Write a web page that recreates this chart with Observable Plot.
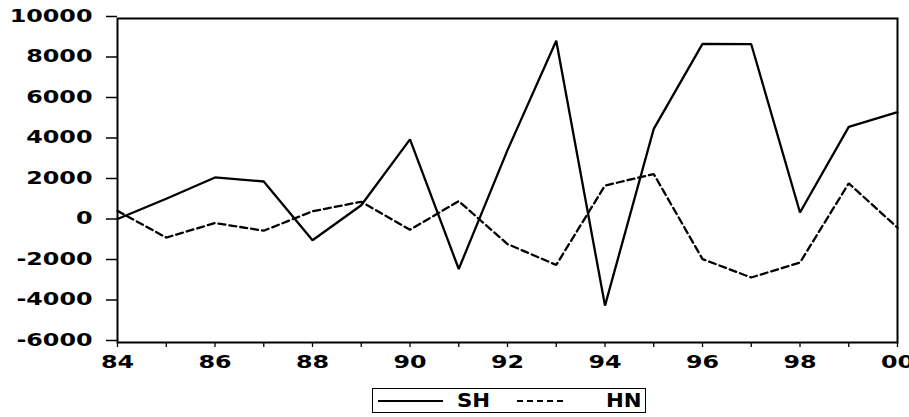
<!DOCTYPE html>
<html>
<head>
<meta charset="utf-8">
<script src="https://cdn.jsdelivr.net/npm/d3@7"></script>
<script src="https://cdn.jsdelivr.net/npm/@observablehq/plot@0.6"></script>
<style>
  html, body { margin: 0; padding: 0; background: white; }
  #chart { width: 909px; }
  .legend {
    position: relative;
    margin-left: 372px;
    margin-top: 10px;
    width: 272px;
    height: 23px;
    border: 1.5px solid black;
    font-family: "DejaVu Sans", sans-serif;
    font-weight: bold;
    font-size: 19px;
    color: black;
  }
  .legend .item { position: absolute; top: 0; height: 23px; display: flex; align-items: center; }
  .legend span { display: inline-block; line-height: 23px; }
</style>
</head>
<body>
<div id="chart"></div>
<script>
// ---- data ----
const years = [84, 85, 86, 87, 88, 89, 90, 91, 92, 93, 94, 95, 96, 97, 98, 99, 100];
const SH = [100, 1100, 2150, 1950, -950, 780, 4030, -2370, 3500, 8900, -4180, 4550, 8750, 8730, 420, 4650, 5380];
const HN = [500, -820, -100, -480, 480, 950, -430, 980, -1140, -2170, 1750, 2320, -1880, -2790, -2050, 1860, -330];
const seriesNames = ["SH", "HN"];
const yTicks = [-6000, -4000, -2000, 0, 2000, 4000, 6000, 8000, 10000];
const xLabelTicks = [84, 86, 88, 90, 92, 94, 96, 98, 100];

const seriesValues = {SH, HN};
const dashes = {SH: null, HN: "7,4"};
const rows = seriesNames.flatMap(name =>
  years.map((year, i) => ({series: name, year, value: seriesValues[name][i]})));

const fmtX = d => String(d % 100).padStart(2, "0");
const fmtY = d => (d < 0 ? "-" : "") + String(Math.abs(d));

const plot = Plot.plot({
  width: 909,
  height: 378,
  marginLeft: 117,
  marginRight: 12,
  marginTop: 18,
  marginBottom: 36,
  style: {fontFamily: "DejaVu Sans, sans-serif", fontWeight: "bold", fontSize: "17px", background: "white", color: "black", overflow: "visible"},
  x: {domain: [84, 100]},
  y: {domain: [-6000, 10000]},
  marks: [
    Plot.axisY({ticks: yTicks, tickFormat: fmtY, tickSize: 11, tickPadding: 14, label: null, dy: -2, stroke: "black", strokeWidth: 1.5}),
    Plot.axisX({ticks: years, tickFormat: () => "", tickSize: 5, label: null, strokeWidth: 1.3}),
    Plot.axisX({ticks: xLabelTicks, tickFormat: fmtX, tickSize: 0, tickPadding: 13, label: null}),
    ...seriesNames.map(name =>
      Plot.line(rows.filter(r => r.series === name), {
        x: "year", y: "value", stroke: "black", strokeWidth: 2.3,
        strokeDasharray: dashes[name], strokeLinejoin: "miter"
      })),
    Plot.frame({stroke: "black", strokeWidth: 2})
  ]
});

const chart = document.getElementById("chart");
chart.appendChild(plot);

// widen the tick labels to mimic the reference's broad bold face
plot.querySelectorAll('[aria-label="y-axis tick label"] text, [aria-label="x-axis tick label"] text').forEach(t => {
  const w = t.getComputedTextLength();
  if (w > 0) {
    t.setAttribute("textLength", (w * 1.4).toFixed(1));
    t.setAttribute("lengthAdjust", "spacingAndGlyphs");
  }
});

// legend below the chart
const legend = document.createElement("div");
legend.className = "legend";
const layout = {SH: {line: [5, 65], text: 84}, HN: {line: [144, 48], text: 233}};
seriesNames.forEach(name => {
  const [lx, lw] = layout[name].line;
  const sample = document.createElement("div");
  sample.className = "item";
  sample.style.left = lx + "px";
  const svg = d3.create("svg").attr("width", lw).attr("height", 10);
  svg.append("line").attr("x1", 0).attr("x2", lw).attr("y1", 5).attr("y2", 5)
    .attr("stroke", "black").attr("stroke-width", 1.8)
    .attr("stroke-dasharray", dashes[name] ? "6,4" : null);
  sample.appendChild(svg.node());
  legend.appendChild(sample);
  const label = document.createElement("div");
  label.className = "item";
  label.style.left = layout[name].text + "px";
  const span = document.createElement("span");
  span.textContent = name;
  span.style.transform = "scaleX(1.12)";
  span.style.transformOrigin = "left center";
  label.appendChild(span);
  legend.appendChild(label);
});
chart.appendChild(legend);
</script>
</body>
</html>
